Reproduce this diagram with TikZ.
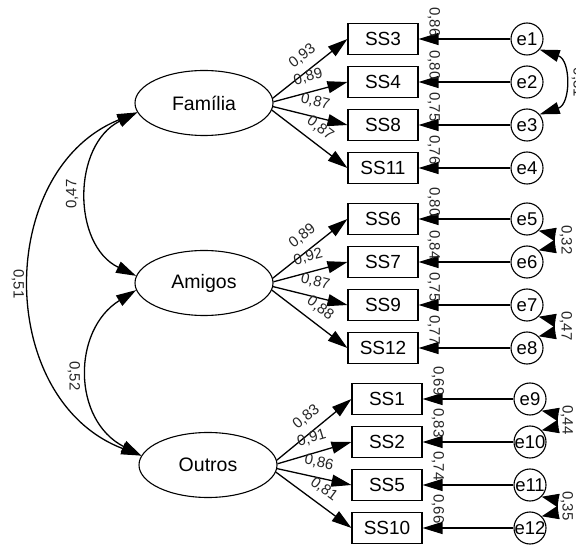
\documentclass[tikz,border=0pt]{standalone}
\usepackage{fontspec}
\setmainfont{Liberation Sans}
\usetikzlibrary{shapes.geometric,arrows.meta}
\begin{document}
\begin{tikzpicture}[x=1pt,y=-1pt,
 lat/.style={ellipse,draw,line width=1.1pt,minimum width=138pt,minimum height=65pt,inner sep=0pt,font=\fontsize{19.5}{21}\selectfont},
 obs/.style={rectangle,draw,line width=1.1pt,minimum width=70pt,minimum height=31pt,inner sep=0pt,font=\fontsize{19}{21}\selectfont},
 err/.style={circle,draw,line width=1.1pt,minimum size=32pt,inner sep=0pt,font=\fontsize{18.5}{20}\selectfont},
 conn/.style={line width=1.3pt,-{Triangle[length=20pt,width=12pt]}},
 cov/.style={line width=1.3pt,{Triangle[length=20pt,width=12pt]}-{Triangle[length=20pt,width=12pt]}},
 scov/.style={line width=1.3pt,{Triangle[length=17pt,width=13pt]}-{Triangle[length=17pt,width=13pt]}},
 lbl/.style={font=\fontsize{15}{17}\selectfont,text=black!85,inner sep=2pt},
 ld/.style={lbl,sloped,above=6pt,pos=0.52},
]
\useasboundingbox (0,0) rectangle (576,545);

% latent variables
\node[lat] (F) at (204,103) {Família};
\node[lat] (A) at (204,283) {Amigos};
\node[lat] (O) at (208,465) {Outros};

% observed variables
\node[obs] (SS3)  at (383,39)  {SS3};
\node[obs] (SS4)  at (383,82)  {SS4};
\node[obs] (SS8)  at (383,125) {SS8};
\node[obs] (SS11) at (383,168) {SS11};
\node[obs] (SS6)  at (383,219) {SS6};
\node[obs] (SS7)  at (383,262) {SS7};
\node[obs] (SS9)  at (383,305) {SS9};
\node[obs] (SS12) at (383,348) {SS12};
\node[obs] (SS1)  at (387,399) {SS1};
\node[obs] (SS2)  at (387,442) {SS2};
\node[obs] (SS5)  at (387,485) {SS5};
\node[obs] (SS10) at (387,528) {SS10};

% errors
\node[err] (e1)  at (527,39)  {e1};
\node[err] (e2)  at (527,82)  {e2};
\node[err] (e3)  at (527,125) {e3};
\node[err] (e4)  at (527,168) {e4};
\node[err] (e5)  at (527,219) {e5};
\node[err] (e6)  at (527,262) {e6};
\node[err] (e7)  at (527,305) {e7};
\node[err] (e8)  at (527,348) {e8};
\node[err] (e9)  at (530,399) {e9};
\node[err] (e10) at (530,442) {\makebox[0pt]{e10}};
\node[err] (e11) at (530,485) {\makebox[0pt]{e11}};
\node[err] (e12) at (530,528) {\makebox[0pt]{e12}};

% loadings
\draw[conn] (F.4)  -- node[ld]{0,93} (SS3.west);
\draw[conn] (F.1)  -- node[ld]{0,89} (SS4.west);
\draw[conn] (F.-3) -- node[ld]{0,87} (SS8.west);
\draw[conn] (F.-6) -- node[ld]{0,87} (SS11.west);

\draw[conn] (A.4)  -- node[ld]{0,89} (SS6.west);
\draw[conn] (A.1)  -- node[ld]{0,92} (SS7.west);
\draw[conn] (A.-3) -- node[ld]{0,87} (SS9.west);
\draw[conn] (A.-6) -- node[ld]{0,88} (SS12.west);

\draw[conn] (O.4)  -- node[ld]{0,83} (SS1.west);
\draw[conn] (O.1)  -- node[ld]{0,91} (SS2.west);
\draw[conn] (O.-3) -- node[ld]{0,86} (SS5.west);
\draw[conn] (O.-6) -- node[ld]{0,81} (SS10.west);

% error paths
\draw[conn] (e1)  -- (SS3.east);
\draw[conn] (e2)  -- (SS4.east);
\draw[conn] (e3)  -- (SS8.east);
\draw[conn] (e4)  -- (SS11.east);
\draw[conn] (e5)  -- (SS6.east);
\draw[conn] (e6)  -- (SS7.east);
\draw[conn] (e7)  -- (SS9.east);
\draw[conn] (e8)  -- (SS12.east);
\draw[conn] (e9)  -- (SS1.east);
\draw[conn] (e10) -- (SS2.east);
\draw[conn] (e11) -- (SS5.east);
\draw[conn] (e12) -- (SS10.east);

% squared multiple correlations
\node[lbl,rotate=-90] (r3)  at (434,22)  {0,86};
\node[lbl,rotate=-90] (r4)  at (434,65)  {0,80};
\node[lbl,rotate=-90] (r8)  at (434,107) {0,75};
\node[lbl,rotate=-90] (r11) at (434,150) {0,76};
\node[lbl,rotate=-90] (r6)  at (434,202) {0,80};
\node[lbl,rotate=-90] (r7)  at (434,245) {0,84};
\node[lbl,rotate=-90] (r9)  at (434,287) {0,75};
\node[lbl,rotate=-90] (r12) at (434,330) {0,77};
\node[lbl,rotate=-90] (r1)  at (438,381) {0,69};
\node[lbl,rotate=-90] (r2)  at (438,423) {0,83};
\node[lbl,rotate=-90] (r5)  at (438,466) {0,74};
\node[lbl,rotate=-90] (r10) at (438,509) {0,66};

% error covariances
\draw[cov] (e1.-40) .. controls (571,60) and (571,104) .. (e3.40);
\node[lbl,rotate=-90] (c13) at (578,80) {-0,31};
\draw[scov] (e5.-45) .. controls (554,234) and (554,247) .. (e6.45);
\node[lbl,rotate=-90] (c56) at (566,240) {0,32};
\draw[scov] (e7.-45) .. controls (554,320) and (554,333) .. (e8.45);
\node[lbl,rotate=-90] (c78) at (566,326) {0,47};
\draw[scov] (e9.-45) .. controls (557,414) and (557,427) .. (e10.45);
\node[lbl,rotate=-90] (c910) at (567,420) {0,44};
\draw[scov] (e11.-45) .. controls (557,500) and (557,513) .. (e12.45);
\node[lbl,rotate=-90] (c1112) at (567,506) {0,35};

% latent covariances
\draw[cov] (F.188) .. controls (72,145) and (72,245) .. (A.174);
\draw[cov] (A.186) .. controls (72,330) and (72,420) .. (O.172);
\draw[cov] (F.188) .. controls (-5,170) and (-5,400) .. (O.172);
\node[lbl,rotate=90]  (c12) at (72,194) {0,47};
\node[lbl,rotate=-90] (c23) at (74,376) {0,52};
\node[lbl,rotate=-90] (c13b) at (18,284) {0,51};
\end{tikzpicture}
\end{document}
